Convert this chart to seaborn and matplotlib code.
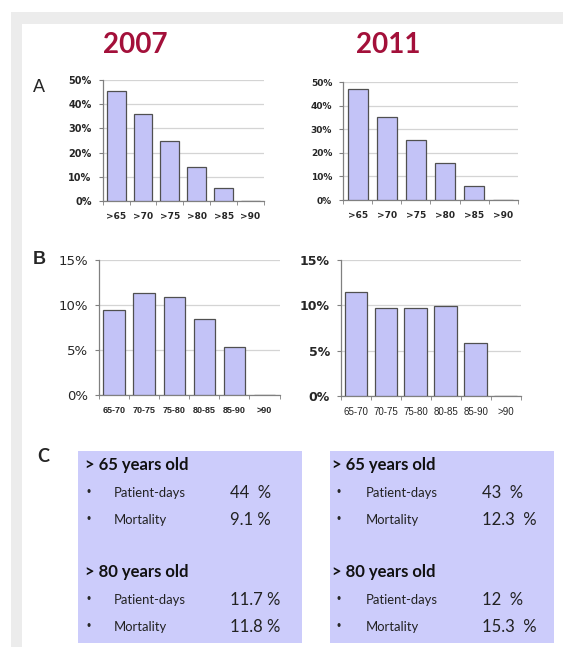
import matplotlib
matplotlib.use("Agg")
import matplotlib.pyplot as plt
import seaborn as sns
import pandas as pd
from matplotlib.patches import Rectangle

# ---------------------------------------------------------------------------
# data
years = ['2007', '2011']

age_a = ['>65', '>70', '>75', '>80', '>85', '>90']
share_2007 = [45.6, 36.0, 24.8, 13.9, 5.5, 0.0]
share_2011 = [46.9, 35.3, 25.4, 15.8, 5.9, 0.0]

age_b = ['65-70', '70-75', '75-80', '80-85', '85-90', '>90']
mort_2007 = [9.5, 11.3, 10.9, 8.5, 5.3, 0.0]
mort_2011 = [11.5, 9.7, 9.7, 9.9, 5.9, 0.0]

box_heads = ['> 65 years old', '> 80 years old']
box_items = ['Patient-days', 'Mortality']
box_vals_2007 = ['44  %', '9.1 %', '11.7 %', '11.8 %']
box_vals_2011 = ['43  %', '12.3  %', '12  %', '15.3  %']

# ---------------------------------------------------------------------------
sns.set_style('white')
plt.rcParams['font.family'] = ['Liberation Sans', 'DejaVu Sans']

W, H = 563, 647
fig = plt.figure(figsize=(W / 100, H / 100), dpi=100)

BAR = '#c3c3f7'
EDGE = '#505050'
BOX = '#ccccfb'
RED = '#a3103a'


def px_axes(left, right, top, bottom, **kw):
    return fig.add_axes([left / W, 1 - bottom / H, (right - left) / W, (bottom - top) / H], **kw)


# background layer: frame, titles, letters and the two text boxes
bg = fig.add_axes([0, 0, 1, 1], zorder=-5)
bg.set_xlim(0, W)
bg.set_ylim(H, 0)
bg.axis('off')
bg.add_patch(Rectangle((11, 12), W - 11, 12, color='#ececec', lw=0))
bg.add_patch(Rectangle((11, 12), 11, H - 12, color='#ececec', lw=0))

for yr, xc in zip(years, [135, 388]):
    bg.text(xc, 45, yr, color=RED, fontsize=20, fontweight='bold',
            family='Lato', ha='center', va='center')

bg.text(38.5, 87, 'A', fontsize=13, ha='center', va='center')
bg.text(39.5, 260, 'B', fontsize=13, fontweight='bold', ha='center', va='center')
bg.text(43, 457, 'C', fontsize=13, fontweight='bold', family='Lato',
        ha='center', va='center')

for x0, hoff, boff, vals in zip([78, 330], [7, 1.5], [11, 9],
                                [box_vals_2007, box_vals_2011]):
    bg.add_patch(Rectangle((x0, 451), 224, 192, color=BOX, lw=0))
    k = 0
    for head, ytop in zip(box_heads, [465, 572]):
        bg.text(x0 + hoff, ytop, head, fontsize=12, fontweight='bold',
                family='Lato', color='#111111', va='center')
        for j, item in enumerate(box_items):
            yy = ytop + 28 + 27 * j
            bg.text(x0 + boff, yy, '\u2022', fontsize=8.5, va='center', ha='center')
            bg.text(x0 + 36, yy, item, fontsize=9.4, family='Lato',
                    color='#222222', va='center')
            bg.text(x0 + 152.5, yy, vals[k], fontsize=12, family='Lato',
                    color='#222222', va='center')
            k += 1


def bar_panel(ax, cats, vals, top, step, width, xfont, yfont):
    df = pd.DataFrame({'age': cats, 'pct': vals})
    sns.barplot(data=df, x='age', y='pct', ax=ax, color=BAR, saturation=1,
                width=width, edgecolor=EDGE, linewidth=0.9, zorder=3)
    ax.set_ylim(0, top)
    ax.set_xlim(-0.5, len(cats) - 0.5)
    ticks = list(range(0, top + 1, step))
    ax.set_yticks(ticks)
    ax.set_yticklabels([f'{t}%' for t in ticks], **yfont)
    ax.set_xticks(range(len(cats)))
    ax.set_xticklabels(cats, **xfont)
    ax.set_xticks([i - 0.5 for i in range(len(cats) + 1)], minor=True)
    ax.tick_params(axis='x', which='major', length=0, pad=8)
    ax.tick_params(axis='x', which='minor', length=3, color='#808080',
                   direction='out', bottom=True)
    ax.tick_params(axis='y', length=3, color='#808080', direction='out',
                   left=True, pad=5)
    ax.grid(axis='y', color='#d4d4d4', lw=0.9, zorder=0)
    ax.set_axisbelow(True)
    for s in ['top', 'right']:
        ax.spines[s].set_visible(False)
    for s in ['left', 'bottom']:
        ax.spines[s].set_color('#808080')
        ax.spines[s].set_linewidth(0.9)
    ax.set_xlabel('')
    ax.set_ylabel('')


dj_bold = dict(family='DejaVu Sans', fontweight='bold')

ax1 = px_axes(102.7, 264, 80, 201)
bar_panel(ax1, age_a, share_2007, 50, 10, 0.7,
          dict(fontsize=6.5, **dj_bold), dict(fontsize=7, **dj_bold))
ax2 = px_axes(343.3, 517.6, 82, 200)
bar_panel(ax2, age_a, share_2011, 50, 10, 0.67,
          dict(fontsize=6.5, **dj_bold), dict(fontsize=6.5, **dj_bold))
ax3 = px_axes(99, 279.5, 260, 395)
bar_panel(ax3, age_b, mort_2007, 15, 5, 0.71,
          dict(fontsize=6.5, fontweight='bold'),
          dict(fontsize=9.5, family='DejaVu Sans'))
ax4 = px_axes(341, 520.5, 260, 396)
bar_panel(ax4, age_b, mort_2011, 15, 5, 0.76,
          dict(fontsize=7), dict(fontsize=9, **dj_bold))

fig.savefig('out.png', dpi=100)
